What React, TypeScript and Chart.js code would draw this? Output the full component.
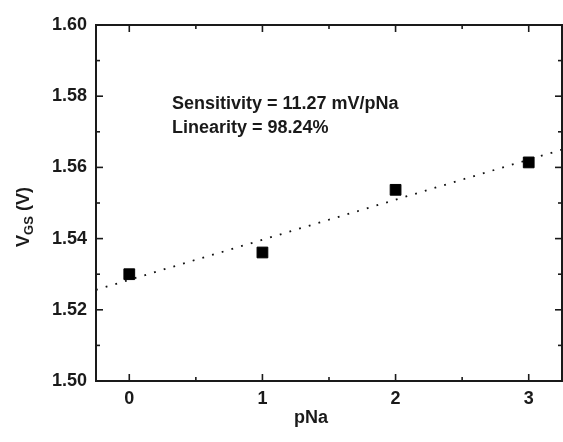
import React, { useEffect, useRef } from "react";
import { Chart, registerables } from "chart.js";

Chart.register(...registerables);

const pNa = [0, 1, 2, 3];
const vgs = [1.530, 1.5361, 1.5537, 1.5614];
const fitX = [-0.25, 3.25];
const fitY = [1.5256, 1.5650];
const xTickValues = [0, 1, 2, 3];
const xMinorValues = [-0.5, 0.5, 1.5, 2.5];
const yTickValues = [1.50, 1.52, 1.54, 1.56, 1.58, 1.60];
const yMinorValues = [1.51, 1.53, 1.55, 1.57, 1.59];
const annotationLines = ["Sensitivity = 11.27 mV/pNa", "Linearity = 98.24%"];

const FONT = "'Liberation Sans', Arial, sans-serif";
const INK = "#1a1a1a";

const framePlugin = {
  id: "frame",
  afterDraw(chart: any) {
    const { ctx, chartArea: a, scales } = chart;
    const xs = scales.x;
    const ys = scales.y;
    ctx.save();
    ctx.strokeStyle = INK;
    ctx.lineWidth = 2;
    ctx.strokeRect(a.left, a.top, a.right - a.left, a.bottom - a.top);
    ctx.lineWidth = 1.6;
    const tick = (x1: number, y1: number, x2: number, y2: number) => {
      ctx.beginPath();
      ctx.moveTo(x1, y1);
      ctx.lineTo(x2, y2);
      ctx.stroke();
    };
    const drawX = (v: number, len: number) => {
      const px = xs.getPixelForValue(v);
      if (px < a.left || px > a.right) return;
      tick(px, a.bottom, px, a.bottom - len);
      tick(px, a.top, px, a.top + len);
    };
    const drawY = (v: number, len: number) => {
      const py = ys.getPixelForValue(v);
      tick(a.left, py, a.left + len, py);
      tick(a.right, py, a.right - len, py);
    };
    xTickValues.forEach((v) => drawX(v, 7));
    xMinorValues.forEach((v) => drawX(v, 4));
    yTickValues.forEach((v) => drawY(v, 7));
    yMinorValues.forEach((v) => drawY(v, 4));

    ctx.fillStyle = INK;
    ctx.font = `bold 18px ${FONT}`;
    ctx.textAlign = "left";
    ctx.textBaseline = "alphabetic";
    const tx = xs.getPixelForValue(0.32);
    ctx.fillText(annotationLines[0], tx, ys.getPixelForValue(1.5763));
    ctx.fillText(annotationLines[1], tx, ys.getPixelForValue(1.5698));

    // x title
    ctx.textAlign = "center";
    ctx.textBaseline = "middle";
    ctx.fillText("pNa", 311, 418);

    // y title with subscript
    ctx.save();
    ctx.translate(23, 217);
    ctx.rotate(-Math.PI / 2);
    const big = `bold 18px ${FONT}`;
    const small = `bold 13px ${FONT}`;
    ctx.font = big;
    const wV = ctx.measureText("V").width;
    const wRest = ctx.measureText(" (V)").width;
    ctx.font = small;
    const wGS = ctx.measureText("GS").width;
    const total = wV + wGS + wRest;
    let cx = -total / 2;
    ctx.textAlign = "left";
    ctx.textBaseline = "alphabetic";
    ctx.font = big;
    ctx.fillText("V", cx, 6);
    cx += wV;
    ctx.font = small;
    ctx.fillText("GS", cx, 10);
    cx += wGS;
    ctx.font = big;
    ctx.fillText(" (V)", cx, 6);
    ctx.restore();
    ctx.restore();
  },
};

export default function App() {
  const ref = useRef<HTMLCanvasElement | null>(null);
  useEffect(() => {
    if (!ref.current) return;
    const chart = new Chart(ref.current, {
      type: "scatter",
      data: {
        datasets: [
          {
            label: "data",
            data: pNa.map((x, i) => ({ x, y: vgs[i] })),
            pointStyle: "rect",
            pointRadius: 7.6,
            pointBackgroundColor: "#000",
            pointBorderColor: "#000",
            pointBorderWidth: 1,
            order: 0,
          },
          {
            label: "fit",
            data: fitX.map((x, i) => ({ x, y: fitY[i] })),
            showLine: true,
            pointRadius: 0,
            borderColor: "#111",
            borderWidth: 1.8,
            borderDash: [1.8, 8.3],
            order: 1,
          } as any,
        ],
      },
      options: {
        animation: false,
        responsive: false,
        devicePixelRatio: 1,
        layout: { autoPadding: false, padding: { left: 0, right: 1, top: 25, bottom: 0 } },
        plugins: { legend: { display: false }, tooltip: { enabled: false } },
        scales: {
          x: {
            type: "linear",
            min: -0.25,
            max: 3.25,
            grid: { display: false, drawTicks: false },
            border: { display: false },
            afterBuildTicks: (s: any) => {
              s.ticks = xTickValues.map((v) => ({ value: v }));
            },
            afterFit: (s: any) => {
              s.height = 61;
            },
            ticks: {
              padding: 7,
              color: INK,
              font: { family: FONT, size: 18, weight: "bold" },
              callback: (v: any) => String(v),
            },
          },
          y: {
            type: "linear",
            min: 1.5,
            max: 1.6,
            grid: { display: false, drawTicks: false },
            border: { display: false },
            afterBuildTicks: (s: any) => {
              s.ticks = yTickValues.map((v) => ({ value: v }));
            },
            afterFit: (s: any) => {
              s.width = 96;
            },
            ticks: {
              padding: 9,
              color: INK,
              font: { family: FONT, size: 18, weight: "bold" },
              callback: (v: any) => Number(v).toFixed(2),
            },
          },
        },
      },
      plugins: [framePlugin],
    });
    return () => chart.destroy();
  }, []);
  return (
    <div style={{ position: "fixed", left: 0, top: 0, width: 563, height: 442, background: "#fff" }}>
      <canvas ref={ref} width={563} height={442} style={{ width: 563, height: 442, display: "block" }} />
    </div>
  );
}
